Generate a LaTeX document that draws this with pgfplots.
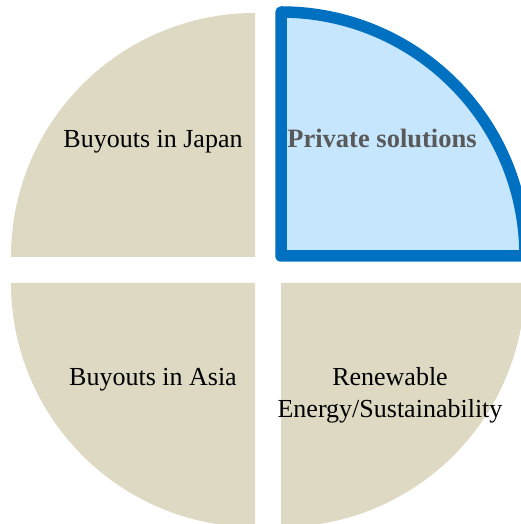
\documentclass[border=0pt]{standalone}
\usepackage{pgfplots}
\pgfplotsset{compat=1.18}
\usepackage{fontspec}
\setmainfont{Liberation Serif}
\definecolor{beige}{HTML}{DDD9C3}
\definecolor{lblue}{HTML}{C5E6FC}
\definecolor{dblue}{HTML}{0070C0}
\definecolor{tgray}{HTML}{595959}
\newcommand{\lbl}{\fontsize{26}{31}\selectfont}
\begin{document}
\begin{tikzpicture}
\begin{axis}[x=1pt,y=1pt,xmin=0,xmax=521,ymin=0,ymax=524,hide axis,clip=true]
% quadrants: corner (x,y), radius 244, each 25% of the circle
\fill[beige] (axis cs:255,267) -- (axis cs:255,511) arc[start angle=90,end angle=180,radius=244pt] -- cycle;
\fill[beige] (axis cs:255,241) -- (axis cs:11,241) arc[start angle=180,end angle=270,radius=244pt] -- cycle;
\fill[beige] (axis cs:281,241) -- (axis cs:281,-3) arc[start angle=270,end angle=360,radius=244pt] -- cycle;
\filldraw[fill=lblue,draw=dblue,line width=11.5pt,line join=round] (axis cs:281,268) -- (axis cs:281,512) arc[start angle=90,end angle=0,radius=244pt] -- cycle;
\node[anchor=base,text=black,font=\lbl] at (axis cs:153,376) {Buyouts in Japan};
\node[anchor=base,text=tgray,font=\fontsize{26.5}{31}\selectfont\bfseries] at (axis cs:382,376) {Private solutions};
\node[anchor=base,text=black,font=\lbl] at (axis cs:153,138) {Buyouts in Asia};
\node[anchor=base,text=black,font=\lbl] at (axis cs:390,138) {Renewable};
\node[anchor=base,text=black,font=\lbl] at (axis cs:390,106) {Energy/Sustainability};
\end{axis}
\pgfresetboundingbox
\path (current axis.south west) rectangle (current axis.north east);
\end{tikzpicture}
\end{document}
